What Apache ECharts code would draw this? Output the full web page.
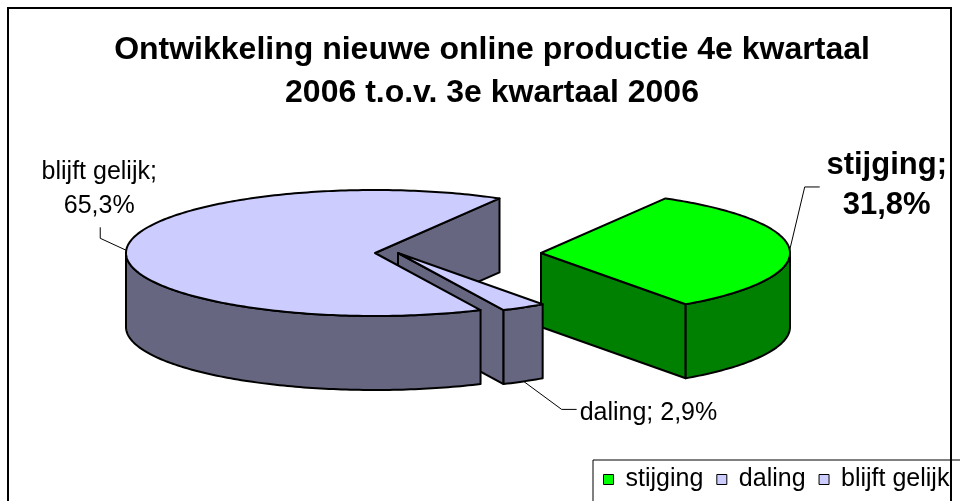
<!DOCTYPE html>
<html>
<head>
<meta charset="utf-8">
<title>Ontwikkeling nieuwe online productie</title>
<script src="https://cdn.jsdelivr.net/npm/echarts@6/dist/echarts.min.js"></script>
<style>
  html, body { margin: 0; padding: 0; background: #fff; }
  #chart { width: 960px; height: 501px; }
</style>
</head>
<body>
<div id="chart"></div>
<script>
// data
var categories = ['stijging', 'daling', 'blijft gelijk'];
var values = [31.8, 2.9, 65.3];
var topColors = ['#00ff00', '#ccccff', '#ccccff'];
var sideColors = ['#008000', '#666680', '#666680'];
var titleText = 'Ontwikkeling nieuwe online productie 4e kwartaal\n2006 t.o.v. 3e kwartaal 2006';

// 3d look: ellipse, thickness, first slice angle (screen degrees, clockwise from 3 o'clock)
var pie = { cx: 375, cy: 253, rx: 249, ry: 63, depth: 74, startDeg: -60 };
var explodeX = [166, 23, 0];

// leader lines + label placement, relative to the anchor point on the rim
var labelCfg = [
  { bottom: false, elbow: [15, -63], end: [30, -63], text: [67, -2], align: 'center', font: 'bold 31px "Liberation Sans"', lineHeight: 40, wrap: true },
  { bottom: true, elbow: [38, 28], end: [53, 28], text: [3, 4], align: 'left', font: '25px "Liberation Sans"', lineHeight: 30, wrap: false },
  { bottom: false, elbow: [-26, -12], end: [-26, -23], text: [-1, -38], align: 'center', font: '25px "Liberation Sans"', lineHeight: 34, wrap: true }
];

function sliceAngles() {
  var total = values.reduce(function (s, v) { return s + v; }, 0);
  var out = [], acc = 0;
  for (var i = 0; i < values.length; i++) {
    var s = pie.startDeg + 360 * acc / total;
    acc += values[i];
    out.push([s, pie.startDeg + 360 * acc / total]);
  }
  return out;
}
var angles = sliceAngles();

function rad(d) { return d * Math.PI / 180; }
function rim(ox, deg, dz) {
  return [ox + pie.rx * Math.cos(rad(deg)), pie.cy + pie.ry * Math.sin(rad(deg)) + dz];
}
function arc(ox, a0, a1, dz) {
  var pts = [], n = Math.max(2, Math.ceil(Math.abs(a1 - a0)));
  for (var k = 0; k <= n; k++) pts.push(rim(ox, a0 + (a1 - a0) * k / n, dz));
  return pts;
}

function renderSlice(params, api) {
  var i = params.seriesIndex;
  var s = angles[i][0], e = angles[i][1];
  var ox = pie.cx + explodeX[i];
  var c = [ox, pie.cy], cb = [ox, pie.cy + pie.depth];
  var children = [];
  function face(points, fill, z2) {
    children.push({
      type: 'polygon', z2: z2, shape: { points: points },
      style: { fill: fill, stroke: '#000', lineWidth: 2, lineJoin: 'round' }
    });
  }
  // cut faces, only those turned to the viewer
  [[s, -90], [e, 90]].forEach(function (f) {
    if (Math.sin(rad(f[0] + f[1])) > 0) {
      face([c, rim(ox, f[0], 0), rim(ox, f[0], pie.depth), cb], sideColors[i], 100 + 50 * Math.sin(rad(f[0])));
    }
  });
  // outer wall, front half only
  for (var k = -1; k <= 1; k++) {
    var lo = Math.max(s, 360 * k), hi = Math.min(e, 360 * k + 180);
    if (hi > lo) {
      face(arc(ox, lo, hi, 0).concat(arc(ox, hi, lo, pie.depth)), sideColors[i], 100 + 100 * Math.sin(rad((lo + hi) / 2)));
    }
  }
  // top
  face([c].concat(arc(ox, s, e, 0)), topColors[i], 400);

  // label with leader line
  var lc = labelCfg[i];
  var a = rim(ox, (s + e) / 2, lc.bottom ? pie.depth : 0);
  var p1 = [a[0] + lc.elbow[0], a[1] + lc.elbow[1]];
  var p2 = [a[0] + lc.end[0], a[1] + lc.end[1]];
  children.push({
    type: 'polyline', z2: 500, shape: { points: [a, p1, p2] },
    style: { stroke: '#000', lineWidth: 1, fill: null }
  });
  children.push({
    type: 'text', z2: 500, x: p2[0] + lc.text[0], y: p2[1] + lc.text[1],
    style: {
      text: categories[i] + ';' + (lc.wrap ? '\n' : ' ') + values[i].toFixed(1).replace('.', ',') + '%',
      font: lc.font, fill: '#000', align: lc.align, verticalAlign: 'middle', lineHeight: lc.lineHeight
    }
  });
  return { type: 'group', children: children };
}

var chart = echarts.init(document.getElementById('chart'));
chart.setOption({
  animation: false,
  title: {
    text: titleText,
    left: 492,
    top: 29,
    padding: 0,
    textAlign: 'center',
    textStyle: { fontFamily: 'Liberation Sans', fontSize: 32, fontWeight: 'bold', color: '#000', lineHeight: 43 }
  },
  legend: {
    left: 593,
    top: 460,
    width: 360,
    icon: 'rect',
    itemWidth: 10,
    itemHeight: 10,
    itemGap: 13,
    padding: [7, 14, 30, 10],
    borderColor: '#000',
    borderWidth: 1,
    selectedMode: false,
    itemStyle: { borderColor: '#000', borderWidth: 1 },
    textStyle: { fontFamily: 'Liberation Sans', fontSize: 25, color: '#000', padding: [0, 0, 0, 7] },
    data: categories
  },
  graphic: [{
    type: 'rect', silent: true,
    shape: { x: 8, y: 8, width: 943, height: 540 },
    style: { fill: null, stroke: '#000', lineWidth: 2 }
  }],
  series: categories.map(function (name, i) {
    return {
      name: name,
      type: 'custom',
      coordinateSystem: 'none',
      itemStyle: { color: topColors[i] },
      renderItem: renderSlice,
      data: [values[i]]
    };
  })
});
</script>
</body>
</html>
